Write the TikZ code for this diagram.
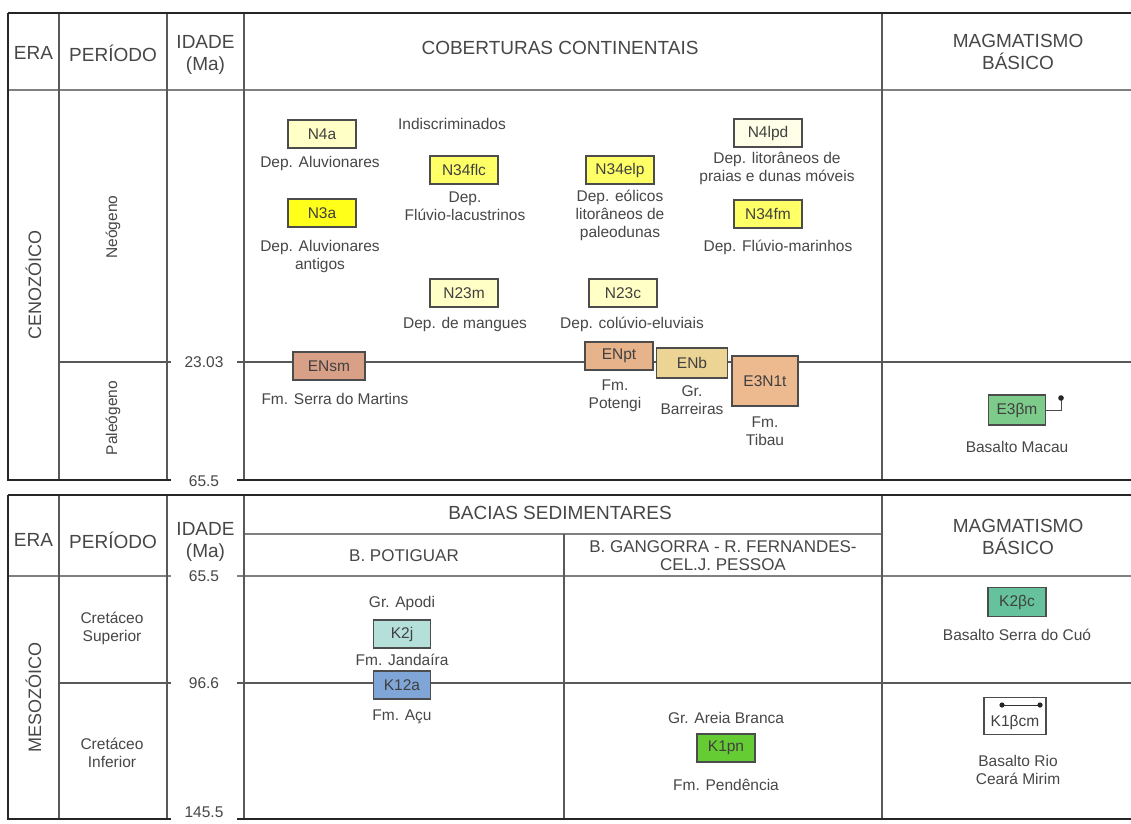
\documentclass[tikz,border=0pt]{standalone}
\usepackage{fontspec}
\setmainfont{Liberation Sans}
\definecolor{txtc}{HTML}{474747}
\definecolor{pale}{HTML}{FFFFC6}
\definecolor{paler}{HTML}{FFFFE8}
\definecolor{yel}{HTML}{FFFF66}
\definecolor{byel}{HTML}{FFFF1A}
\definecolor{ensm}{HTML}{D9A088}
\definecolor{enpt}{HTML}{E6B38A}
\definecolor{enb}{HTML}{EBD494}
\definecolor{etib}{HTML}{EDB98E}
\definecolor{ebm}{HTML}{7CCB8A}
\definecolor{kbc}{HTML}{66C29C}
\definecolor{kj}{HTML}{B5E0DA}
\definecolor{kacu}{HTML}{7FA6D6}
\definecolor{kpn}{HTML}{66CC33}
\begin{document}
\begin{tikzpicture}[x=1pt,y=-1pt,
  txt/.style={text=txtc, align=center, inner sep=0pt, font=\fontsize{15.5}{18}\selectfont},
  hdr/.style={text=txtc, align=center, inner sep=0pt, font=\fontsize{19}{21.5}\selectfont},
  subhdr/.style={text=txtc, align=center, inner sep=0pt, font=\fontsize{17}{18}\selectfont},
  per/.style={txt, rotate=90},
  era/.style={hdr, rotate=90, font=\fontsize{18}{20}\selectfont},
  unit/.style={draw=black!70, line width=1.1pt, minimum width=68pt, minimum height=28pt, inner sep=0pt, text=black!75, font=\fontsize{15.5}{18}\selectfont},
  border/.style={line width=2.2pt, draw=black!85},
  grid/.style={line width=1.3pt, draw=black!65},
  hline/.style={line width=1.8pt, draw=black!50},
]
\useasboundingbox (0,0) rectangle (1131,823);
\fill[white] (0,0) rectangle (1131,823);

% ================= TOP TABLE =================
\draw[hline] (8,90) -- (1131,90);
\foreach \x in {59,167,244,882} \draw[grid] (\x,13) -- (\x,480);
\node[txt] (a2303) at (204,362) {23.03};
\node[txt] (a655t) at (204,481) {65.5};
\draw[grid] (59,362) -- (171,362);
\draw[grid] (237,362) -- (1131,362);
\draw[border] (8,13) -- (1131,13);
\draw[border] (8,13) -- (8,480) -- (171,480);
\draw[border] (237,480) -- (1131,480);

% headers
\node[hdr] (hera) at (33.5,53) {ERA};
\node[hdr] (hper) at (113,53) {PERÍODO};
\node[hdr] (hid) at (205.5,55) {IDADE\\(Ma)};
\node[hdr] (hcob) at (560,48) {COBERTURAS CONTINENTAIS};
\node[hdr] (hmag) at (1018,52) {MAGMATISMO\\BÁSICO};

\node[era] (ceno) at (33.5,285) {CENOZÓICO};
\node[per] (neo) at (113,227) {Neógeno};
\node[per] (pal) at (113,418) {Paleógeno};

% units
\node[unit, fill=pale] (N4a) at (322,134) {N4a};
\node[txt] (lN4a) at (320,163) {Dep. Aluvionares};
\node[unit, fill=byel] (N3a) at (322,213) {N3a};
\node[txt] (lN3a) at (320,256) {Dep. Aluvionares\\antigos};
\node[txt] (lind) at (452,124) {Indiscriminados};
\node[unit, fill=yel] (N34flc) at (464,170) {N34flc};
\node[txt] (lN34flc) at (465,206) {Dep.\\Flúvio-lacustrinos};
\node[unit, fill=yel] (N34elp) at (620,170) {N34elp};
\node[txt] (lN34elp) at (620,215) {Dep. eólicos\\litorâneos de\\paleodunas};
\node[unit, fill=paler] (N4lpd) at (768,133) {N4lpd};
\node[txt] (lN4lpd) at (777,168) {Dep. litorâneos de\\praias e dunas móveis};
\node[unit, fill=yel] (N34fm) at (768,214) {N34fm};
\node[txt] (lN34fm) at (778,247) {Dep. Flúvio-marinhos};
\node[unit, fill=pale] (N23m) at (464,293) {N23m};
\node[txt] (lN23m) at (465,324) {Dep. de mangues};
\node[unit, fill=pale] (N23c) at (623,293) {N23c};
\node[txt] (lN23c) at (632,324) {Dep. colúvio-eluviais};

\node[unit, fill=ensm, minimum width=72pt] (ENsm) at (329,366) {ENsm};
\node[txt] (lENsm) at (335,399) {Fm. Serra do Martins};
\node[unit, fill=enpt] (ENpt) at (619,356) {ENpt};
\node[txt] (lENpt) at (615,396) {Fm.\\Potengi};
\node[unit, fill=enb, minimum width=71pt, minimum height=30pt] (ENb) at (692,363) {ENb};
\node[txt] (lENb) at (692,400) {Gr.\\Barreiras};
\node[unit, fill=etib, minimum width=66pt, minimum height=50pt] (E3N1t) at (765,381) {E3N1t};
\node[txt] (lE3N1t) at (765,431) {Fm.\\Tibau};

\node[unit, fill=ebm, minimum width=57pt, minimum height=30pt] (E3bm) at (1017,410) {E3βm};
\coordinate (dotE) at (1061,398);
\draw[line width=0.9pt, black!70] (E3bm.east) -| (dotE);
\fill[black!85] (dotE) circle (2.8);
\node[txt] (lE3bm) at (1017,447) {Basalto Macau};

% ================= BOTTOM TABLE =================
\draw[hline] (244,534) -- (882,534);
\node[txt] (a655b) at (204,576) {65.5};
\node[txt] (a966) at (204,683) {96.6};
\node[txt] (a1455) at (204,812) {145.5};
\draw[hline] (8,576) -- (171,576);
\draw[hline] (237,576) -- (1131,576);
\foreach \x in {59,167,244,882} \draw[grid] (\x,495) -- (\x,819);
\draw[grid] (564,534) -- (564,819);
\draw[grid] (59,683) -- (171,683);
\draw[grid] (237,683) -- (1131,683);
\draw[border] (8,495) -- (1131,495);
\draw[border] (8,495) -- (8,819) -- (171,819);
\draw[border] (237,819) -- (1131,819);

\node[hdr] (bera) at (33.5,540) {ERA};
\node[hdr] (bper) at (113,540) {PERÍODO};
\node[hdr] (bid) at (205.5,542) {IDADE\\(Ma)};
\node[hdr] (bbac) at (560,513) {BACIAS SEDIMENTARES};
\node[subhdr] (bpot) at (404,556) {B. POTIGUAR};
\node[subhdr] (bgan) at (723,556) {B. GANGORRA - R. FERNANDES-\\CEL.J. PESSOA};
\node[hdr] (bmag) at (1018,537) {MAGMATISMO\\BÁSICO};

\node[era] (meso) at (33.5,697) {MESOZÓICO};
\node[txt] (csup) at (112,628) {Cretáceo\\Superior};
\node[txt] (cinf) at (112,753) {Cretáceo\\Inferior};

\node[txt] (lapodi) at (402,603) {Gr. Apodi};
\node[unit, fill=kj, minimum width=57pt] (K2j) at (402,634) {K2j};
\node[txt] (lK2j) at (402,660) {Fm. Jandaíra};
\node[unit, fill=kacu, minimum width=57pt] (K12a) at (402,685) {K12a};
\node[txt] (lK12a) at (402,717) {Fm. Açu};

\node[txt] (lareia) at (726,718) {Gr. Areia Branca};
\node[unit, fill=kpn, minimum width=58pt] (K1pn) at (726,748) {K1pn};
\node[txt] (lK1pn) at (726,785) {Fm. Pendência};

\node[unit, fill=kbc, minimum width=58pt, minimum height=29pt] (K2bc) at (1017,602) {K2βc};
\node[txt] (lK2bc) at (1017,635) {Basalto Serra do Cuó};
\node[unit, fill=white, minimum width=62pt, minimum height=37pt, text height=24pt, text depth=3pt] (K1bcm) at (1015,716) {K1βcm};
\coordinate (dk1) at (1002,705);
\coordinate (dk2) at (1040,705);
\draw[line width=1pt, black!80] (dk1) -- (dk2);
\fill[black!85] (dk1) circle (2.6) (dk2) circle (2.6);
\node[txt] (lK1bcm) at (1018,770) {Basalto Rio\\Ceará Mirim};
\end{tikzpicture}
\end{document}
